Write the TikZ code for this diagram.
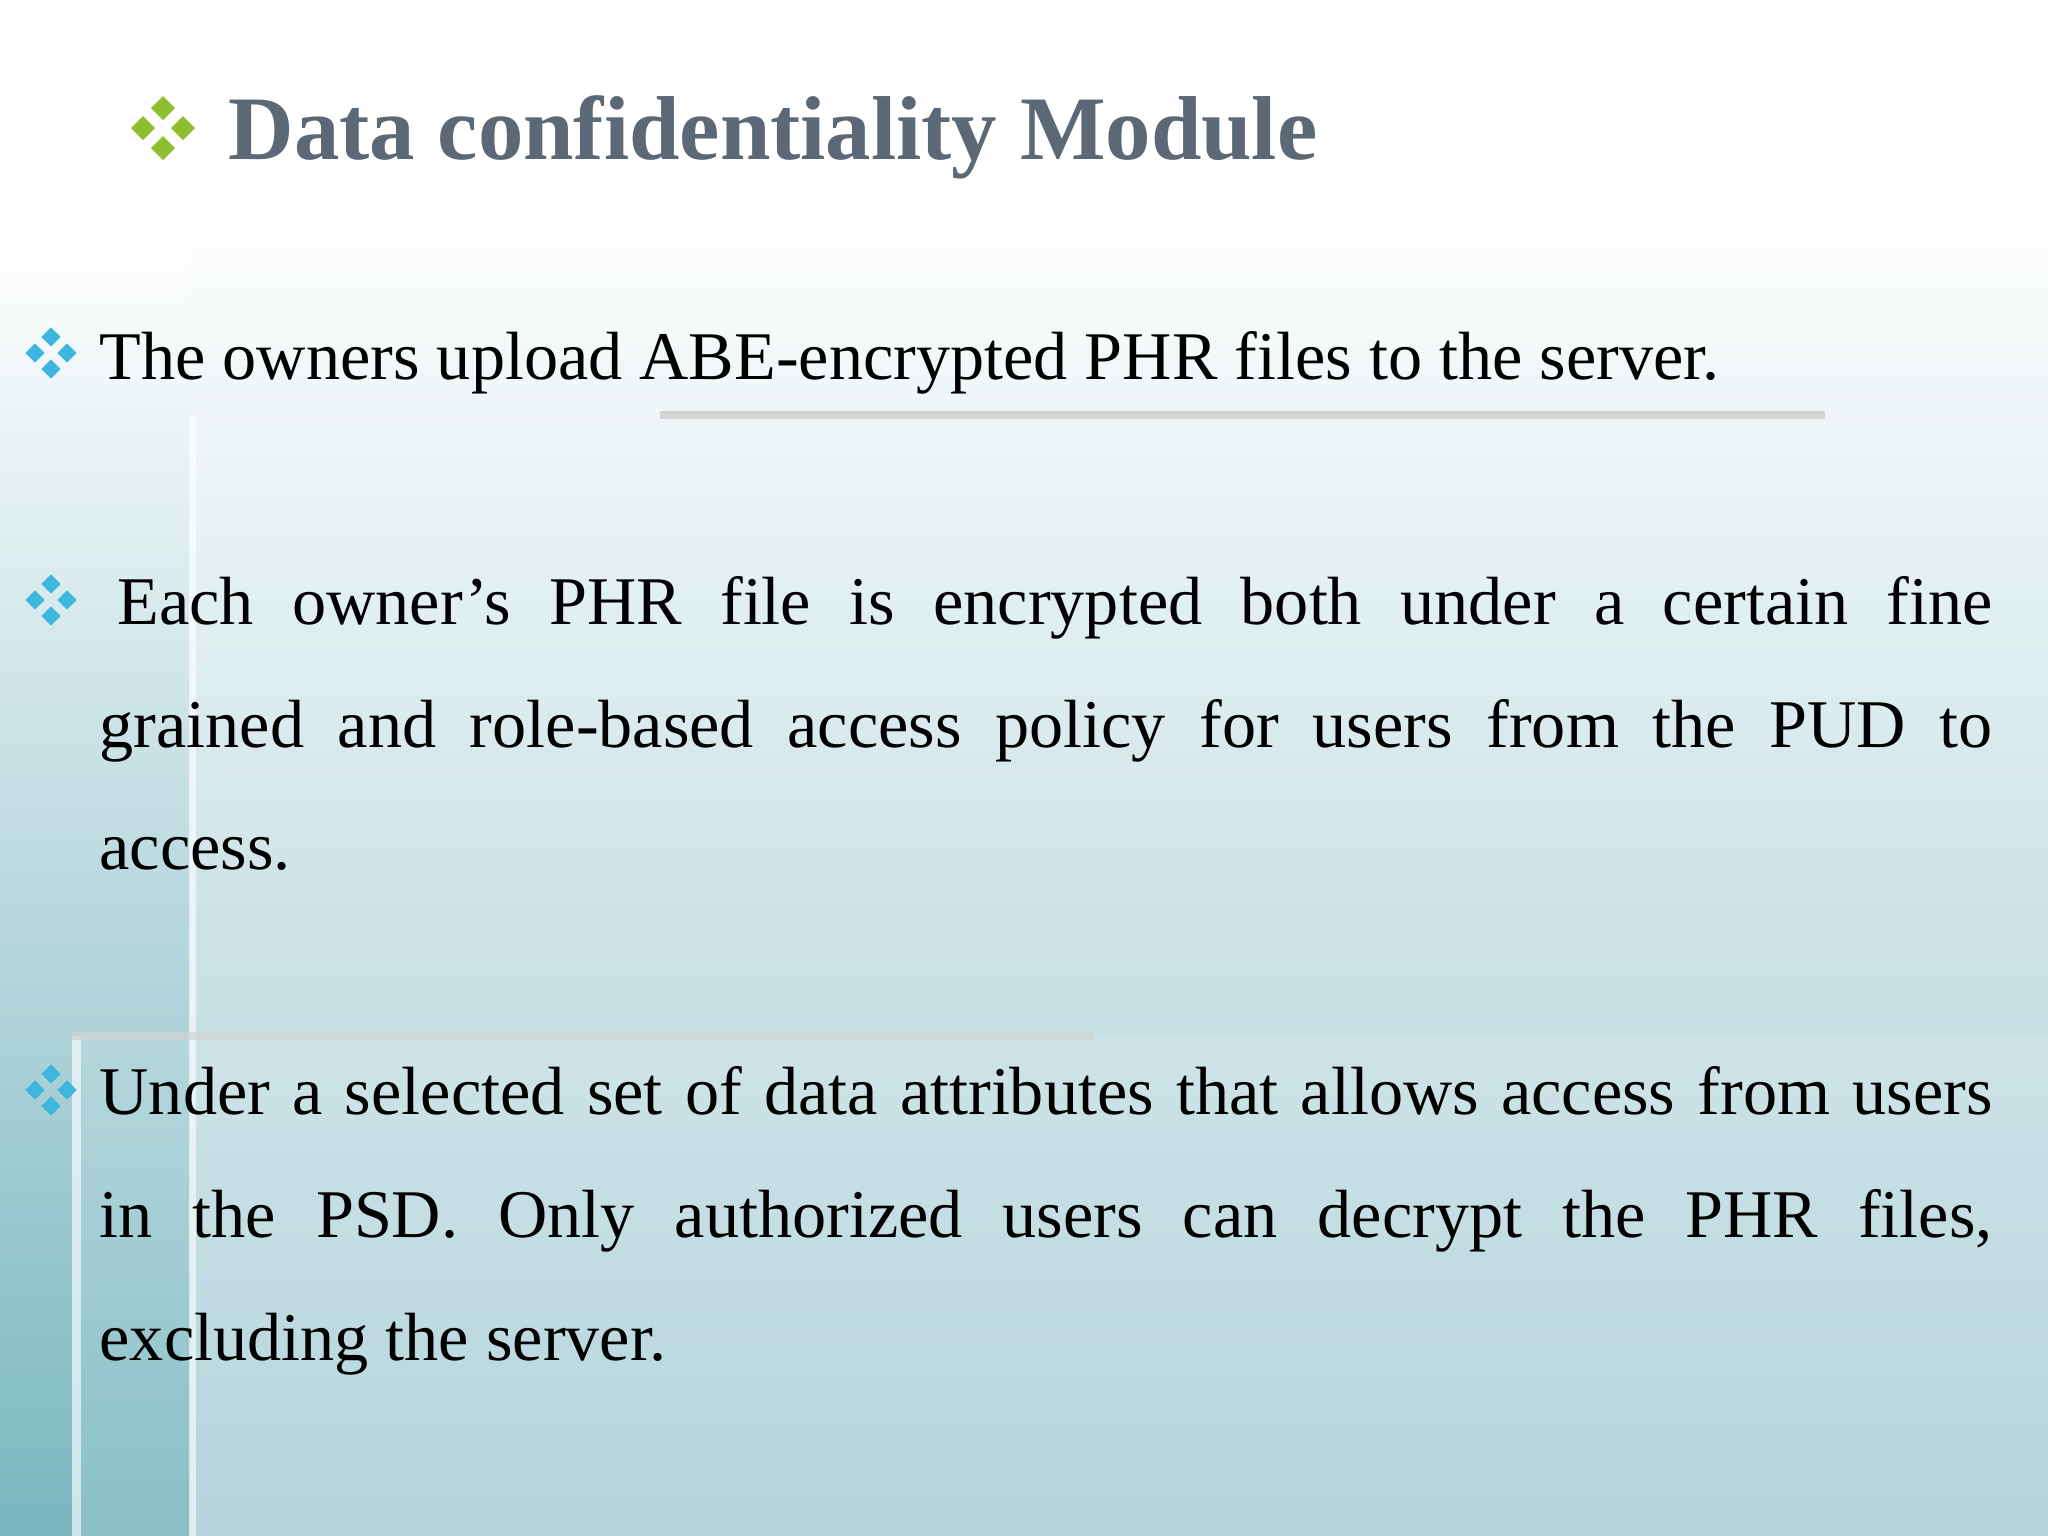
\documentclass[tikz,border=0pt]{standalone}
\usepackage{fontspec}
\setmainfont{Liberation Serif}
\definecolor{titlec}{HTML}{5B6875}
\definecolor{teal1}{HTML}{9FCAD2}
\definecolor{teal2}{HTML}{6AAFBA}
\definecolor{bulb}{HTML}{3FB6E0}
\definecolor{bulg}{HTML}{8DBE2E}
\tikzset{
  body/.style={anchor=base west,inner sep=0pt,font=\fontsize{19.4pt}{24pt}\selectfont},
  quad/.pic={\foreach \a in {0,90,180,270}{\fill[rotate=\a] (0,0.8)--(0.3,0.5)--(0,0.2)--(-0.3,0.5)--cycle;}}
}
\begin{document}
\begin{tikzpicture}[x=0.01cm,y=-0.01cm]
\useasboundingbox (0,0) rectangle (2048,1536);
\shade[top color=white,bottom color=teal1,middle color=teal1!55] (0,200) rectangle (2048,1536);
\fill[white] (0,0) rectangle (2048,200);
\shade[top color=white,bottom color=teal2,opacity=0.7] (0,250) rectangle (190,1536);
\fill[white,opacity=0.12] (190,415) rectangle (2048,1536);
\fill[white,opacity=0.12] (72,1036) rectangle (2048,1536);
\fill[white,opacity=0.6] (189,415) rectangle (196,1536);
\fill[white,opacity=0.6] (72,1036) rectangle (81,1536);
\fill[gray!40,opacity=0.8] (660,411) rectangle (1825,419);
\fill[gray!35,opacity=0.7] (72,1032) rectangle (1094,1040);
% title
\pic[bulg,scale=40] at (163,128) {quad};
\node[anchor=base west,inner sep=0pt,text=titlec,font=\fontsize{25.8pt}{30pt}\selectfont\bfseries] (title) at (228,159) {Data confidentiality Module};
% bullets
\pic[bulb,scale=32] at (51,353) {quad};
\pic[bulb,scale=32] at (51,600) {quad};
\pic[bulb,scale=32] at (51,1090) {quad};
\node[body] (p1) at (99,379) {The owners upload ABE-encrypted PHR files to the server.};
\node[body] (p2a) at (117,624) {\makebox[1875\dimexpr 0.01cm\relax][s]{Each owner’s PHR file is encrypted both under a certain fine}};
\node[body] (p2b) at (99,747) {\makebox[1893\dimexpr 0.01cm\relax][s]{grained and role-based access policy for users from the PUD to}};
\node[body] (p2c) at (99,869) {access.};
\node[body] (p3a) at (99,1114) {\makebox[1893\dimexpr 0.01cm\relax][s]{Under a selected set of data attributes that allows access from users}};
\node[body] (p3b) at (99,1237) {\makebox[1893\dimexpr 0.01cm\relax][s]{in the PSD. Only authorized users can decrypt the PHR files,}};
\node[body] (p3c) at (99,1360) {excluding the server.};
\end{tikzpicture}
\end{document}
